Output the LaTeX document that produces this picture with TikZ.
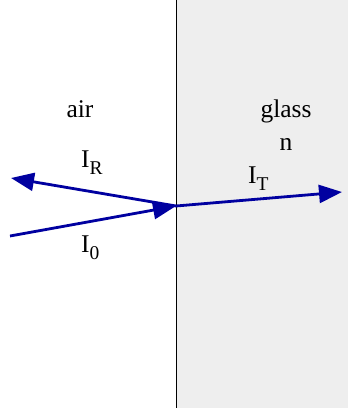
\documentclass[tikz,border=0pt]{standalone}
\usepackage{fontspec}
\setmainfont{Liberation Serif}
\usetikzlibrary{arrows.meta}
\definecolor{glassgray}{HTML}{EEEEEE}
\definecolor{raycol}{HTML}{0000A0}
\tikzset{
  lbl/.style={inner sep=0pt, anchor=base, font=\fontsize{25.5}{30}\selectfont},
  ray/.style={draw=raycol, line width=2.8pt, -{Triangle[length=23pt,width=18pt]}},
}
\newcommand{\mysubidx}[1]{\raisebox{-0.3em}{\fontsize{19.5}{22}\selectfont #1}}
\begin{document}
\begin{tikzpicture}[x=1pt,y=-1pt]
\useasboundingbox (0,0) rectangle (348,408);
\fill[glassgray] (176,0) rectangle (348,408);
\draw[line width=0.8pt] (176,0) -- (176,408);
\coordinate (O) at (176,206);
\coordinate (A) at (10,236);
\coordinate (R) at (11,178);
\coordinate (T) at (342,192);
\draw[ray] (A) -- (O);
\draw[ray] (O) -- (R);
\draw[ray] (O) -- (T);
\node[lbl] (air) at (80,117) {air};
\node[lbl] (glass) at (286,117) {glass};
\node[lbl] (n) at (286,150) {n};
\node[lbl,anchor=base west] (iR) at (81,167) {I\mysubidx{R}};
\node[lbl,anchor=base west] (i0) at (81,252) {I\mysubidx{0}};
\node[lbl,anchor=base west] (iT) at (248,183) {I\mysubidx{T}};
\end{tikzpicture}
\end{document}
